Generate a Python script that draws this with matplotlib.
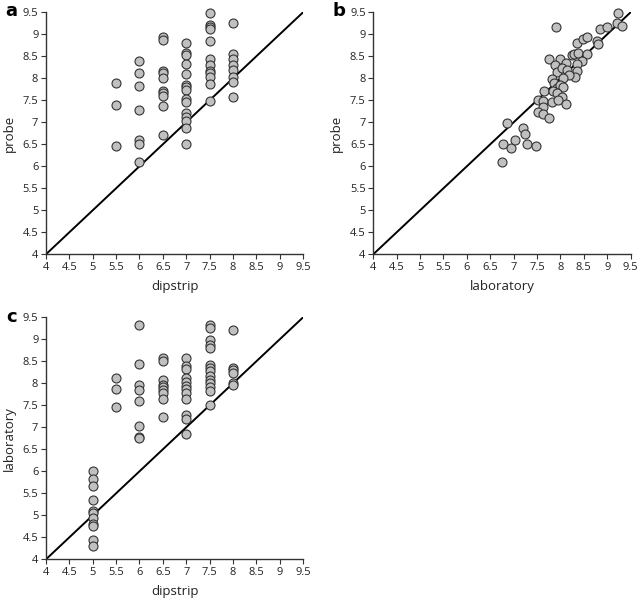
import matplotlib
matplotlib.use("Agg")
import matplotlib.pyplot as plt
import numpy as np

# panel a: dipstrip vs probe
a_dip = [5.5]*3 + [6]*7 + [6.5]*10 + [7]*15 + [7.5]*12 + [8]*8
a_probe = [7.9, 7.4, 6.45,
           8.4, 8.13, 7.82, 7.28, 6.6, 6.5, 6.1,
           8.93, 8.88, 8.16, 8.12, 8.0, 7.71, 7.66, 7.6, 7.36, 6.72,
           8.8, 8.57, 8.53, 8.33, 8.1, 7.85, 7.8, 7.74, 7.52, 7.47, 7.2, 7.11, 7.02, 6.88, 6.5,
           9.49, 9.21, 9.17, 9.11, 8.85, 8.44, 8.3, 8.17, 8.13, 8.02, 7.86, 7.49,
           9.25, 8.55, 8.43, 8.3, 8.19, 8.04, 7.92, 7.58]

# panel b: laboratory vs probe
b_lab = [6.76, 6.78, 6.85, 6.94, 7.03, 7.2, 7.24, 7.28, 7.47,
         7.9, 9.24, 9.2, 9.32, 8.84, 8.99, 8.35, 8.49, 8.56, 8.77, 8.81,
         7.76, 8.0, 7.88, 8.12, 8.24, 8.29, 8.38, 8.57, 8.45, 8.35, 8.35, 8.31,
         7.92, 8.03, 8.13, 8.19, 8.06, 7.81, 7.87, 7.92, 8.0, 8.06,
         7.65, 7.83, 7.92, 8.03, 7.51, 7.63, 7.81, 7.95, 8.12, 7.63, 7.51, 7.63, 7.75]
b_probe = [6.1, 6.51, 6.98, 6.41, 6.6, 6.88, 6.73, 6.51, 6.46,
           9.16, 9.49, 9.25, 9.19, 9.11, 9.16, 8.81, 8.89, 8.93, 8.85, 8.77,
           8.44, 8.44, 8.3, 8.34, 8.53, 8.55, 8.57, 8.55, 8.39, 8.32, 8.17, 8.04,
           8.15, 8.23, 8.19, 8.08, 8.0, 7.98, 7.89, 7.77, 7.85, 7.8,
           7.7, 7.72, 7.66, 7.58, 7.51, 7.49, 7.47, 7.51, 7.41, 7.35, 7.23, 7.19, 7.09]

# panel c: dipstrip vs laboratory
c_dip = [5]*11 + [5.5]*3 + [6]*8 + [6.5]*9 + [7]*12 + [7.5]*14 + [8]*6
c_lab = [6.0, 5.82, 5.67, 5.35, 5.1, 5.05, 4.93, 4.8, 4.76, 4.45, 4.3,
         8.11, 7.86, 7.47,
         9.33, 8.45, 7.96, 7.85, 7.6, 7.03, 6.79, 6.75,
         8.58, 8.5, 8.07, 7.96, 7.91, 7.84, 7.77, 7.64, 7.23,
         8.58, 8.4, 8.33, 8.11, 8.03, 7.93, 7.86, 7.77, 7.64, 7.28, 7.18, 6.85,
         9.32, 9.25, 8.98, 8.86, 8.8, 8.42, 8.35, 8.28, 8.17, 8.08, 8.0, 7.92, 7.83, 7.5,
         9.21, 8.35, 8.3, 8.24, 8.0, 7.97]

ticks = np.arange(4, 9.51, 0.5)
tick_labels = [f"{t:g}" for t in ticks]

plt.rcParams['font.family'] = ['Open Sans', 'DejaVu Sans']

fig = plt.figure(figsize=(6.38, 5.98), dpi=100)

# letter positions in figure fraction (from top-left pixels)
panels = [
    ("a", (5, 11), [0.0721, 0.5748, 0.403, 0.4047], a_dip, a_probe, "dipstrip", "probe"),
    ("b", (332, 11), [0.5851, 0.5748, 0.4034, 0.4047], b_lab, b_probe, "laboratory", "probe"),
    ("c", (6, 317), [0.0721, 0.0647, 0.403, 0.4047], c_dip, c_lab, "dipstrip", "laboratory"),
]

for letter, lpos, rect, xs, ys, xlab, ylab in panels:
    ax = fig.add_axes(rect)
    ax.plot([4, 9.5], [4, 9.5], color="black", linewidth=1.4, zorder=2)
    ax.scatter(xs, ys, s=42, facecolor="#c0c0c0", edgecolor="#333333",
               linewidth=0.8, zorder=3, clip_on=False)
    ax.set_xlim(4, 9.5)
    ax.set_ylim(4, 9.5)
    ax.set_xticks(ticks)
    ax.set_xticklabels(tick_labels)
    ax.set_yticks(ticks)
    ax.set_yticklabels(tick_labels)
    for s in ["top", "right"]:
        ax.spines[s].set_visible(False)
    for s in ["left", "bottom"]:
        ax.spines[s].set_color("#333333")
        ax.spines[s].set_linewidth(1.0)
    ax.tick_params(direction="out", length=3.5, width=0.8, color="#333333",
                   labelsize=8, labelcolor="#222222", pad=2)
    ax.set_xlabel(xlab, fontsize=9.5, color="#222222", labelpad=5)
    ax.set_ylabel(ylab, fontsize=9.5, color="#222222", labelpad=5)
    fig.text(lpos[0] / 638, 1 - lpos[1] / 598, letter, fontsize=13,
             fontweight="bold", family="DejaVu Sans", ha="left", va="center")

plt.savefig("out.png", dpi=100)
